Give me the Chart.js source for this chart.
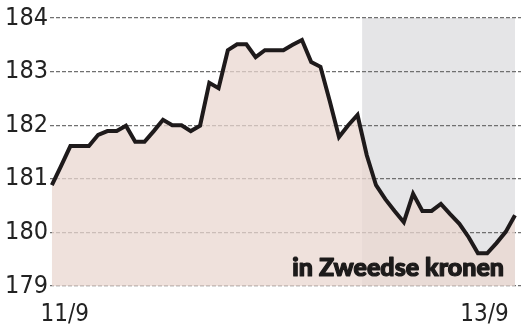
<!DOCTYPE html>
<html>
<head>
<meta charset="utf-8">
<script src="https://cdn.jsdelivr.net/npm/chart.js@4/dist/chart.umd.min.js"></script>
<style>
  html, body { margin: 0; padding: 0; background: #fff; }
  #wrap { width: 526px; height: 333px; }
</style>
</head>
<body>
<div id="wrap"><canvas id="c" width="526" height="333"></canvas></div>
<script>
// koers, ongeveer elk kwartier van 11/9 tot 13/9
const prices = [
  180.88, 181.24, 181.61, 181.61, 181.61, 181.82, 181.89, 181.89, 181.99, 181.69,
  181.69, 181.89, 182.10, 182.00, 182.00, 181.89, 181.99, 182.79, 182.69, 183.40,
  183.51, 183.51, 183.27, 183.40, 183.40, 183.40, 183.50, 183.59, 183.18, 183.09,
  182.45, 181.78, 182.00, 182.19, 181.44, 180.88, 180.62, 180.40, 180.19, 180.72,
  180.40, 180.40, 180.53, 180.34, 180.16, 179.91, 179.61, 179.61, 179.80, 180.01,
  180.32
];
const dateTicks = ['11/9', '13/9'];
const dateTickPos = [1.4, 46.7];
const yTicks = [179, 180, 181, 182, 183, 184];
const shadeFrom = 33.5;   // grijs vlak: markt in Stockholm dicht
const shadeTo = prices.length - 1;
const unitLabel = 'in Zweedse kronen';

const points = prices.map((v, i) => ({ x: i, y: v }));
const tickFont = { family: '"Liberation Sans Narrow", "DejaVu Sans Condensed", sans-serif', size: 25 };

const shadePlugin = {
  id: 'shade',
  beforeDraw(chart) {
    const { ctx, chartArea, scales } = chart;
    const x1 = scales.x.getPixelForValue(shadeFrom);
    const x2 = scales.x.getPixelForValue(shadeTo);
    ctx.save();
    ctx.fillStyle = '#e5e5e7';
    ctx.fillRect(x1, chartArea.top, x2 - x1, chartArea.bottom - chartArea.top);
    ctx.restore();
  },
  afterDatasetsDraw(chart) {
    const { ctx, chartArea } = chart;
    ctx.save();
    ctx.font = '900 25px Lato, "Liberation Sans", sans-serif';
    ctx.fillStyle = '#1c1a1a';
    ctx.strokeStyle = '#1c1a1a';
    ctx.lineWidth = 1.2;
    ctx.lineJoin = 'round';
    ctx.textAlign = 'right';
    ctx.textBaseline = 'alphabetic';
    const tx = chartArea.right - 17, ty = chartArea.bottom - 10;
    ctx.strokeText(unitLabel, tx, ty);
    ctx.fillText(unitLabel, tx, ty);
    ctx.restore();
  }
};

new Chart(document.getElementById('c'), {
  type: 'line',
  data: {
    datasets: [{
      data: points,
      borderColor: '#1e1a1b',
      borderWidth: 4,
      borderJoinStyle: 'miter',
      pointRadius: 0,
      tension: 0,
      fill: 'start',
      backgroundColor: 'rgba(234, 215, 208, 0.75)'
    }]
  },
  options: {
    responsive: false,
    animation: false,
    layout: { padding: { top: 18, right: 5, left: 0, bottom: 0 } },
    plugins: { legend: { display: false }, tooltip: { enabled: false } },
    scales: {
      x: {
        type: 'linear',
        min: -0.2,
        max: 50.65,
        grid: { display: false },
        border: { display: false },
        afterFit: (s) => { s.height = 47; },
        afterBuildTicks: (s) => { s.ticks = dateTickPos.map(v => ({ value: v })); },
        ticks: {
          font: { ...tickFont, size: 24 },
          color: '#222',
          padding: 6,
          maxRotation: 0,
          autoSkip: false,
          callback: (v) => dateTicks[dateTickPos.indexOf(v)]
        }
      },
      y: {
        min: 179,
        max: 184,
        z: 1,
        afterFit: (s) => { s.width = 50; },
        afterBuildTicks: (s) => { s.ticks = yTicks.map(v => ({ value: v })); },
        grid: { color: '#707070', lineWidth: 1.2, drawTicks: false },
        border: { display: false, dash: [4, 2] },
        ticks: { font: tickFont, color: '#222', padding: 2 }
      }
    }
  },
  plugins: [shadePlugin]
});
</script>
</body>
</html>
